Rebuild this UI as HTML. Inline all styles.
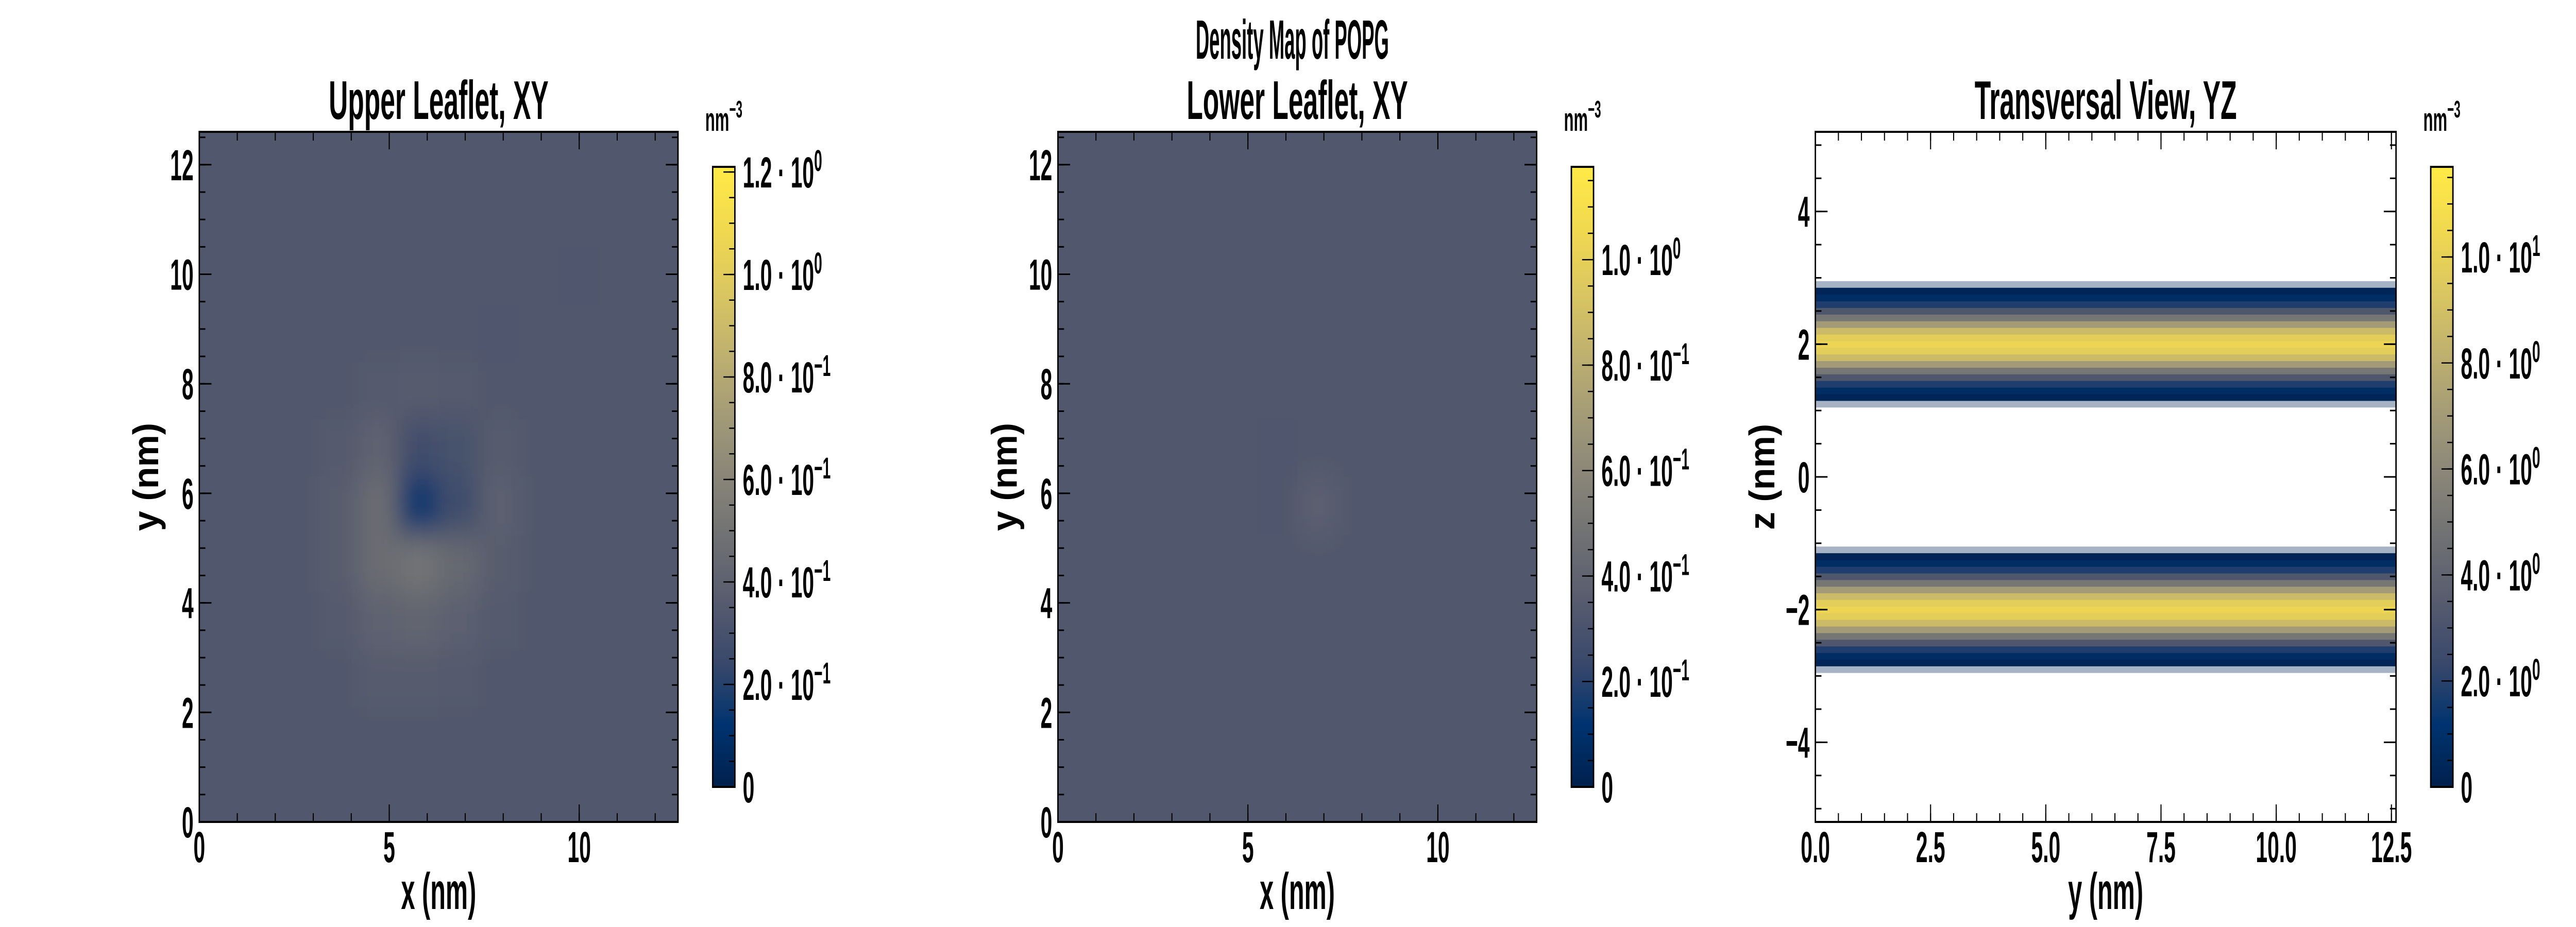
<!DOCTYPE html>
<html><head><meta charset="utf-8">
<style>
html,body{margin:0;padding:0;background:#fff;width:100%;height:100%;overflow:hidden;}
svg{display:block;width:100vw;height:100vh;}
text{font-family:"Liberation Sans",sans-serif;font-weight:bold;fill:#000;}
</style></head>
<body>
<svg id="fig" xmlns="http://www.w3.org/2000/svg" viewBox="0 0 7200 1800" preserveAspectRatio="none">
<defs>
<filter id="soft" x="-0.2" y="-0.2" width="1.4" height="1.4"><feGaussianBlur stdDeviation="30"/></filter>
</defs>
<text x="3612" y="114" font-size="108" text-anchor="middle" textLength="540" lengthAdjust="spacingAndGlyphs">Density Map of POPG</text>
</svg>
<script>
// ---------- data ----------
const p1Grid = [
[0.34,0.34,0.34,0.34,0.34,0.34,0.34,0.34,0.34,0.34,0.34,0.34],
[0.34,0.34,0.34,0.34,0.34,0.34,0.34,0.34,0.34,0.34,0.34,0.34],
[0.34,0.34,0.34,0.34,0.34,0.34,0.34,0.34,0.34,0.33,0.34,0.34],
[0.34,0.34,0.34,0.34,0.34,0.34,0.34,0.33,0.34,0.34,0.34,0.34],
[0.34,0.34,0.34,0.34,0.35,0.36,0.35,0.34,0.34,0.34,0.34,0.34],
[0.34,0.34,0.34,0.35,0.40,0.28,0.30,0.36,0.34,0.34,0.34,0.34],
[0.34,0.34,0.34,0.37,0.46,0.15,0.27,0.39,0.34,0.34,0.34,0.34],
[0.34,0.34,0.34,0.37,0.46,0.50,0.44,0.37,0.34,0.34,0.34,0.34],
[0.34,0.34,0.34,0.35,0.40,0.42,0.39,0.35,0.34,0.34,0.34,0.34],
[0.34,0.34,0.34,0.34,0.36,0.36,0.35,0.34,0.34,0.34,0.34,0.34],
[0.34,0.34,0.34,0.34,0.34,0.34,0.34,0.34,0.34,0.34,0.34,0.34],
[0.34,0.34,0.34,0.34,0.34,0.34,0.34,0.34,0.34,0.34,0.34,0.34]
];
const p2Grid = [
[0.33,0.33,0.33,0.33,0.33,0.33,0.33,0.33,0.33,0.33,0.33,0.33],
[0.33,0.33,0.33,0.33,0.33,0.33,0.33,0.33,0.33,0.33,0.33,0.33],
[0.33,0.33,0.33,0.33,0.33,0.33,0.33,0.33,0.33,0.33,0.33,0.33],
[0.33,0.33,0.33,0.33,0.33,0.33,0.33,0.33,0.33,0.33,0.33,0.33],
[0.33,0.33,0.33,0.33,0.33,0.33,0.33,0.33,0.33,0.33,0.33,0.33],
[0.33,0.33,0.33,0.33,0.33,0.32,0.33,0.33,0.33,0.33,0.33,0.33],
[0.33,0.33,0.33,0.33,0.33,0.32,0.37,0.33,0.33,0.33,0.33,0.33],
[0.33,0.33,0.33,0.33,0.33,0.33,0.33,0.33,0.33,0.33,0.33,0.33],
[0.33,0.33,0.33,0.33,0.33,0.33,0.33,0.33,0.33,0.33,0.33,0.33],
[0.33,0.33,0.33,0.33,0.33,0.33,0.33,0.33,0.33,0.33,0.33,0.33],
[0.33,0.33,0.33,0.33,0.33,0.33,0.33,0.33,0.33,0.33,0.33,0.33],
[0.33,0.33,0.33,0.33,0.33,0.33,0.33,0.33,0.33,0.33,0.33,0.33]
];
// transversal view: density vs offset from leaflet centre (nm)
const bandCenters = [2.0, -2.0];
const bandOffsets = [-0.9,-0.8,-0.7,-0.6,-0.5,-0.4,-0.3,-0.2,-0.1,0.0,0.1,0.2,0.3,0.4,0.5,0.6,0.7,0.8,0.9];
const bandValues  = [0.05,0.3,0.8,1.8,3.2,5.0,7.0,8.7,9.8,10.3,9.8,8.7,7.0,5.0,3.2,1.8,0.8,0.3,0.05];

const xyTicks = [0,5,10];
const xyTickLabels = ["0","5","10"];
const xyYTicks = [0,2,4,6,8,10,12];
const xyYTickLabels = ["0","2","4","6","8","10","12"];
const yzXTicks = [0,2.5,5,7.5,10,12.5];
const yzXTickLabels = ["0.0","2.5","5.0","7.5","10.0","12.5"];
const yzYTicks = [-4,-2,0,2,4];
const yzYTickLabels = ["\u22124","\u22122","0","2","4"];

const cb1Ticks = [0,0.2,0.4,0.6,0.8,1.0,1.2];
const cb1Mant = ["0","2.0","4.0","6.0","8.0","1.0","1.2"];
const cb1Exp  = ["","\u22121","\u22121","\u22121","\u22121","0","0"];
const cb2Ticks = [0,0.2,0.4,0.6,0.8,1.0];
const cb2Mant = ["0","2.0","4.0","6.0","8.0","1.0"];
const cb2Exp  = ["","\u22121","\u22121","\u22121","\u22121","0"];
const cb3Ticks = [0,2,4,6,8,10];
const cb3Mant = ["0","2.0","4.0","6.0","8.0","1.0"];
const cb3Exp  = ["","0","0","0","0","1"];

// ---------- rendering ----------
const NS = "http://www.w3.org/2000/svg";
const svg = document.getElementById("fig");
const SQ = 0.7; // horizontal condensing of text
const cividis = ["#00204d","#00336f","#39486b","#575c6e","#6f7073","#898578","#a39b77","#bfb16f","#dbc761","#f1d94f","#ffea46"];
function hex2rgb(h){return [parseInt(h.substr(1,2),16),parseInt(h.substr(3,2),16),parseInt(h.substr(5,2),16)];}
function cmap(t){
  t=Math.max(0,Math.min(1,t));
  const f=t*(cividis.length-1), i=Math.min(cividis.length-2,Math.floor(f)), u=f-i;
  const a=hex2rgb(cividis[i]), b=hex2rgb(cividis[i+1]);
  return "rgb("+a.map((v,k)=>Math.round(v+(b[k]-v)*u)).join(",")+")";
}
function mk(tag, attrs, parent){
  const e=document.createElementNS(NS,tag);
  for(const k in attrs) e.setAttribute(k,attrs[k]);
  (parent||svg).appendChild(e);
  return e;
}
function txt(parent,x,y,size,anchor,rot){
  const tr="translate("+x+" "+y+")"+(rot?" rotate("+rot+")":"")+" scale("+SQ+" 1)";
  return mk("text",{x:0,y:0,"font-size":size,"text-anchor":anchor||"start",transform:tr},parent);
}
function lin(d0,d1,r0,r1){return v=>r0+(v-d0)/(d1-d0)*(r1-r0);}

function axesFrame(g,ax,sx,sy,xt,xl,xMinorStep,yt,yl,yMinorStep,xmin,xmax,ymin,ymax){
  const ML=34, mL=17;
  for(let v=Math.ceil(xmin/xMinorStep)*xMinorStep; v<=xmax+1e-9; v+=xMinorStep){
    const X=sx(v);
    mk("line",{x1:X,x2:X,y1:ax.y1,y2:ax.y1-mL,stroke:"#000","stroke-width":3},g);
    mk("line",{x1:X,x2:X,y1:ax.y0,y2:ax.y0+mL,stroke:"#000","stroke-width":3},g);
  }
  for(let v=Math.ceil(ymin/yMinorStep)*yMinorStep; v<=ymax+1e-9; v+=yMinorStep){
    const Y=sy(v);
    mk("line",{x1:ax.x0,x2:ax.x0+mL,y1:Y,y2:Y,stroke:"#000","stroke-width":3},g);
    mk("line",{x1:ax.x1,x2:ax.x1-mL,y1:Y,y2:Y,stroke:"#000","stroke-width":3},g);
  }
  xt.forEach((v,i)=>{
    const X=sx(v);
    mk("line",{x1:X,x2:X,y1:ax.y1,y2:ax.y1-ML,stroke:"#000","stroke-width":3},g);
    mk("line",{x1:X,x2:X,y1:ax.y0,y2:ax.y0+ML,stroke:"#000","stroke-width":3},g);
    const t=txt(g,X,ax.y1+78,84,"middle");
    
    
    t.textContent=xl[i];
  });
  yt.forEach((v,i)=>{
    const Y=sy(v);
    mk("line",{x1:ax.x0,x2:ax.x0+ML,y1:Y,y2:Y,stroke:"#000","stroke-width":3},g);
    mk("line",{x1:ax.x1,x2:ax.x1-ML,y1:Y,y2:Y,stroke:"#000","stroke-width":3},g);
    const t=txt(g,ax.x0-16,Y+30,84,"end");
    
    
    t.textContent=yl[i];
  });
  const fr=mk("rect",{x:ax.x0,y:ax.y0,width:ax.x1-ax.x0,height:ax.y1-ax.y0,fill:"none",stroke:"#000","stroke-width":4},g);
  
  
}

function colorbar(g,cb,vmax,ticks,mant,exps,minorStep,id){
  const gr=mk("linearGradient",{id:id,x1:0,y1:1,x2:0,y2:0},svg.querySelector("defs"));
  for(let i=0;i<=20;i++) mk("stop",{offset:i/20,"stop-color":cmap(i/20)},gr);
  const sc=lin(0,vmax,cb.y1,cb.y0);
  const r=mk("rect",{x:cb.x0,y:cb.y0,width:cb.x1-cb.x0,height:cb.y1-cb.y0,fill:"url(#"+id+")",stroke:"#000","stroke-width":4},g);
  
  
  for(let v=minorStep; v<vmax; v+=minorStep){
    const Y=sc(v);
    mk("line",{x1:cb.x1-16,x2:cb.x1,y1:Y,y2:Y,stroke:"#000","stroke-width":2.5},g);
  }
  ticks.forEach((v,i)=>{
    const Y=sc(v);
    mk("line",{x1:cb.x1-32,x2:cb.x1,y1:Y,y2:Y,stroke:"#000","stroke-width":2.5},g);
    const t=txt(g,cb.x1+22,Y+30,84);
    
    
    if(exps[i]===""){ t.textContent=mant[i]; }
    else{
      t.textContent=mant[i]+" \u00b7 10";
      const s=mk("tspan",{dy:-32,"font-size":58},t);
      s.textContent=exps[i];
    }
  });
  const u=txt(g,(cb.x0+cb.x1)/2,cb.y0-70,64,"middle");
  
  
  u.textContent="nm";
  const us=mk("tspan",{dy:-26,"font-size":46},u);
  us.textContent="\u22123";
}

function titles(g,ax,title,xlab,ylab,ylabX){
  const t=txt(g,(ax.x0+ax.x1)/2,231,106,"middle");
  
  
  t.textContent=title;
  const xl=txt(g,(ax.x0+ax.x1)/2,1765,100,"middle");
  
  
  xl.textContent=xlab;
  const cy=(ax.y0+ax.y1)/2;
  const yl=mk("text",{x:0,y:0,"font-size":100,"text-anchor":"middle",transform:"translate("+(ylabX+35)+" "+cy+") rotate(-90) scale("+SQ+" 1)"},g);
  
  
  yl.textContent=ylab;
}

function xyPanel(name,off,grid,vmax,title,cbTicks,cbMant,cbExp,clipId,gradId){
  const g=mk("g",{});
  
  
  const ax={x0:557+off,x1:1895+off,y0:256,y1:1596};
  const sx=lin(0,12.6,ax.x0,ax.x1), sy=lin(0,12.6,ax.y1,ax.y0);
  const cp=mk("clipPath",{id:clipId},svg.querySelector("defs"));
  mk("rect",{x:ax.x0,y:ax.y0,width:ax.x1-ax.x0,height:ax.y1-ax.y0},cp);
  const hg=mk("g",{"clip-path":"url(#"+clipId+")"},g);
  const hm=mk("g",{filter:"url(#soft)"},hg);
  
  
  const n=grid.length, cs=12.6/n, PAD=150;
  grid.forEach((row,r)=>row.forEach((v,c)=>{
    let x0=sx(c*cs), x1=sx((c+1)*cs), yT=sy(12.6-r*cs), yB=sy(12.6-(r+1)*cs);
    if(c===0) x0-=PAD; if(c===row.length-1) x1+=PAD;
    if(r===0) yT-=PAD; if(r===n-1) yB+=PAD;
    const cell=mk("rect",{x:x0,y:yT,width:x1-x0+1,height:yB-yT+1,fill:cmap(v/vmax)},hm);
    
    
  }));
  axesFrame(g,ax,sx,sy,xyTicks,xyTickLabels,1,xyYTicks,xyYTickLabels,0.5,0,12.6,0,12.6);
  colorbar(g,{x0:1992+off,x1:2054+off,y0:324,y1:1528},vmax,cbTicks,cbMant,cbExp,0.05,gradId);
  titles(g,ax,title,"x (nm)","y (nm)",ax.x0-150);
}

xyPanel("upper-leaflet-panel",0,p1Grid,1.21,"Upper Leaflet, XY",cb1Ticks,cb1Mant,cb1Exp,"clip1","grad1");
xyPanel("lower-leaflet-panel",2400,p2Grid,1.176,"Lower Leaflet, XY",cb2Ticks,cb2Mant,cb2Exp,"clip2","grad2");

// panel 3
(function(){
  const g=mk("g",{});
  
  
  const ax={x0:5074,x1:6697,y0:256,y1:1596};
  const sx=lin(0,12.6,ax.x0,ax.x1), sy=lin(-5.2,5.2,ax.y1,ax.y0);
  const vmax=11.7;
  const hm=mk("g",{},g);
  
  
  bandCenters.forEach(c=>{
    bandOffsets.forEach((d,i)=>{
      const zc=c+d, yT=sy(zc+0.05), yB=sy(zc-0.05);
      let op=1, v=bandValues[i];
      if(v<0.1) op=0.35;
      const row=mk("rect",{x:ax.x0,y:yT,width:ax.x1-ax.x0,height:yB-yT+0.6,fill:cmap(Math.max(v,0.3)/vmax),"fill-opacity":op},hm);
      
      
    });
  });
  axesFrame(g,ax,sx,sy,yzXTicks,yzXTickLabels,0.5,yzYTicks,yzYTickLabels,0.5,0,12.6,-5.2,5.2);
  colorbar(g,{x0:6794,x1:6856,y0:324,y1:1528},vmax,cb3Ticks,cb3Mant,cb3Exp,0.5,"grad3");
  titles(g,ax,"Transversal View, YZ","y (nm)","z (nm)",ax.x0-150);
})();
</script>
</body></html>
